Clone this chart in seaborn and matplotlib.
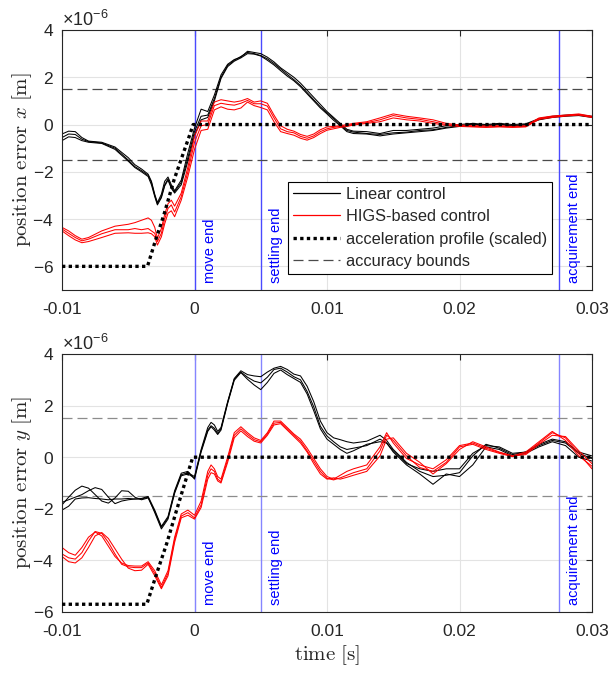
import numpy as np
import pandas as pd
import matplotlib
matplotlib.use("Agg")
import matplotlib.pyplot as plt
import matplotlib.transforms as mtransforms
from matplotlib.lines import Line2D
from matplotlib.ticker import ScalarFormatter
import seaborn as sns

# ---------------- data (time in ms, error in micrometres) ----------------
t_x = [-10, -9.5, -9, -8.5, -8, -7, -6, -5, -4.5, -4, -3.5, -3.25, -3, -2.8, -2.5, -2.25, -2, -1.75, -1.5, -1,
       -0.5, 0, 0.5, 1, 1.5, 2, 2.5, 3, 3.5, 4, 4.5, 5, 5.5, 6, 6.5, 7, 7.5, 8, 8.5, 9, 9.5, 10, 10.5, 11, 11.5,
       12, 13, 14, 15, 16, 17, 18, 19, 20, 21, 22, 23, 24, 25, 26, 27, 28, 29, 30]

lin_x1 = [-0.40, -0.28, -0.30, -0.55, -0.70, -0.75, -0.95, -1.40, -1.70, -1.88, -2.10, -2.40, -2.95, -3.30, -2.95,
          -2.40, -2.22, -2.55, -2.80, -2.35, -1.20, -0.15, 0.65, 0.55, 1.25, 2.10, 2.55, 2.75, 2.85, 3.10, 3.05,
          3.00, 2.85, 2.65, 2.40, 2.20, 2.00, 1.75, 1.45, 1.15, 0.85, 0.55, 0.30, 0.05, -0.20, -0.28, -0.30, -0.38,
          -0.25, -0.25, -0.20, -0.15, -0.05, 0.00, 0.05, 0.00, 0.05, 0.00, 0.03, 0.25, 0.35, 0.40, 0.42, 0.35]
lin_x2 = [-0.55, -0.40, -0.42, -0.62, -0.72, -0.78, -1.00, -1.50, -1.78, -1.95, -2.15, -2.45, -3.00, -3.35, -3.05,
          -2.55, -2.30, -2.65, -2.85, -2.45, -1.40, -0.30, 0.35, 0.40, 1.10, 2.00, 2.50, 2.72, 2.88, 3.05, 3.00,
          2.92, 2.78, 2.58, 2.35, 2.12, 1.90, 1.65, 1.35, 1.05, 0.75, 0.50, 0.25, 0.00, -0.25, -0.32, -0.38, -0.42,
          -0.35, -0.32, -0.25, -0.22, -0.12, -0.05, 0.02, -0.03, 0.02, -0.05, 0.00, 0.22, 0.32, 0.38, 0.40, 0.33]
lin_x3 = [-0.68, -0.52, -0.55, -0.68, -0.75, -0.80, -1.05, -1.55, -1.82, -2.00, -2.20, -2.55, -3.05, -3.40, -3.10,
          -2.60, -2.35, -2.70, -2.90, -2.55, -1.55, -0.45, 0.20, 0.30, 1.00, 1.95, 2.45, 2.68, 2.82, 3.00, 2.98,
          2.90, 2.72, 2.52, 2.28, 2.05, 1.85, 1.60, 1.30, 1.00, 0.70, 0.45, 0.18, -0.05, -0.30, -0.38, -0.40, -0.48,
          -0.40, -0.35, -0.30, -0.25, -0.15, -0.08, 0.00, -0.06, 0.00, -0.06, -0.02, 0.20, 0.30, 0.35, 0.38, 0.30]

higs_x1 = [-4.35, -4.50, -4.70, -4.85, -4.78, -4.50, -4.30, -4.22, -4.15, -4.05, -3.95, -4.05, -4.35, -4.80, -4.40,
           -3.80, -3.35, -3.20, -3.45, -2.90, -1.80, -0.50, 0.15, 0.15, 0.95, 1.05, 1.00, 0.95, 1.00, 1.10, 0.95,
           1.00, 0.90, 0.40, -0.05, -0.20, -0.28, -0.42, -0.50, -0.40, -0.22, -0.10, -0.08, -0.05, 0.00, 0.05,
           0.12, 0.28, 0.45, 0.35, 0.28, 0.20, 0.05, -0.02, -0.05, -0.06, -0.05, -0.08, -0.05, 0.28, 0.36, 0.40,
           0.45, 0.35]
higs_x2 = [-4.42, -4.60, -4.78, -4.92, -4.85, -4.62, -4.45, -4.45, -4.40, -4.45, -4.40, -4.50, -4.60, -4.95, -4.60,
           -4.00, -3.55, -3.40, -3.70, -3.05, -2.00, -0.75, -0.05, 0.00, 0.80, 0.90, 0.85, 0.82, 0.90, 1.02, 0.88,
           0.88, 0.78, 0.28, -0.18, -0.30, -0.35, -0.50, -0.58, -0.48, -0.30, -0.18, -0.12, -0.08, -0.05, 0.02,
           0.08, 0.20, 0.38, 0.28, 0.22, 0.12, 0.00, -0.05, -0.08, -0.10, -0.08, -0.10, -0.08, 0.25, 0.33, 0.38,
           0.42, 0.32]
higs_x3 = [-4.50, -4.70, -4.88, -5.00, -4.95, -4.78, -4.60, -4.58, -4.60, -4.60, -4.58, -4.62, -4.75, -5.10, -4.75,
           -4.20, -3.75, -3.65, -3.90, -3.20, -2.20, -1.05, -0.25, -0.20, 0.62, 0.75, 0.65, 0.62, 0.70, 0.95, 0.80,
           0.72, 0.62, 0.12, -0.30, -0.38, -0.45, -0.58, -0.66, -0.55, -0.38, -0.24, -0.18, -0.12, -0.08, -0.02,
           0.05, 0.12, 0.28, 0.20, 0.15, 0.05, -0.03, -0.08, -0.10, -0.12, -0.10, -0.12, -0.10, 0.22, 0.30, 0.36,
           0.40, 0.30]

acc_t_x = [-10, -3.55, -3.0, -2.3, -1.55, -0.9, -0.4, -0.1, 30]
acc_x = [-6.0, -6.0, -5.0, -3.8, -2.35, -1.3, -0.5, 0.0, 0.0]

t_y = [-10, -9.5, -9, -8.5, -8, -7.5, -7, -6.5, -6, -5.5, -5, -4.5, -4, -3.5, -3, -2.5, -2, -1.5, -1, -0.5, 0,
       0.5, 1, 1.25, 1.5, 1.75, 2, 2.5, 3, 3.5, 4, 4.5, 5, 5.5, 6, 6.5, 7, 7.5, 8, 8.5, 9, 9.5, 10, 10.5, 11, 11.5,
       12, 13, 14, 14.5, 15, 16, 17, 18, 19, 20, 21, 22, 23, 24, 25, 26, 27, 28, 29, 30]

lin_y1 = [-1.85, -1.55, -1.28, -1.12, -1.20, -1.45, -1.70, -1.78, -1.58, -1.30, -1.32, -1.55, -1.65, -1.58, -2.10,
          -2.72, -2.35, -1.35, -0.68, -0.60, -0.75, 0.30, 1.15, 1.35, 1.25, 1.00, 1.15, 2.15, 3.05, 3.35, 3.20,
          3.15, 3.12, 3.30, 3.45, 3.52, 3.40, 3.22, 3.15, 2.75, 2.15, 1.40, 0.95, 0.75, 0.68, 0.60, 0.55, 0.62,
          0.85, 0.65, 0.30, -0.20, -0.55, -0.75, -0.70, -0.60, 0.05, 0.50, 0.35, 0.10, 0.20, 0.45, 0.65, 0.55,
          0.15, -0.05]
lin_y2 = [-1.75, -1.65, -1.55, -1.45, -1.30, -1.18, -1.25, -1.55, -1.80, -1.70, -1.65, -1.62, -1.62, -1.55, -2.15,
          -2.78, -2.40, -1.40, -0.72, -0.65, -0.80, 0.25, 1.05, 1.22, 1.12, 0.92, 1.10, 2.12, 3.02, 3.30, 3.10,
          2.95, 2.88, 3.10, 3.40, 3.45, 3.30, 3.12, 3.00, 2.55, 1.95, 1.20, 0.82, 0.60, 0.40, 0.30, 0.35, 0.45,
          0.70, 0.55, 0.20, -0.30, -0.65, -1.05, -0.65, -0.75, -0.30, 0.40, 0.30, 0.05, 0.15, 0.40, 0.60, 0.45,
          0.00, -0.15]
lin_y3 = [-2.05, -1.90, -1.62, -1.58, -1.57, -1.60, -1.62, -1.65, -1.62, -1.62, -1.60, -1.62, -1.60, -1.52, -2.05,
          -2.68, -2.30, -1.30, -0.62, -0.55, -0.85, 0.20, 1.00, 1.18, 1.05, 0.88, 1.05, 2.08, 2.98, 3.28, 3.02,
          2.80, 2.62, 2.90, 3.25, 3.38, 3.20, 3.05, 2.90, 2.45, 1.80, 1.10, 0.70, 0.50, 0.30, 0.15, 0.25, 0.50,
          0.60, 0.55, 0.25, -0.25, -0.45, -0.55, -0.45, -0.45, 0.15, 0.45, 0.40, 0.15, 0.20, 0.50, 0.70, 0.60,
          0.20, 0.05]

higs_y1 = [-3.50, -3.70, -3.80, -3.50, -3.10, -2.90, -3.05, -3.45, -3.85, -4.10, -4.20, -4.22, -4.22, -4.05, -4.40,
           -4.95, -4.40, -3.10, -2.20, -2.05, -2.25, -1.70, -0.55, -0.30, -0.45, -0.75, -0.85, 0.00, 0.95, 1.18,
           0.95, 0.75, 0.65, 0.95, 1.40, 1.40, 1.15, 0.90, 0.70, 0.35, -0.05, -0.45, -0.75, -0.85, -0.70, -0.55,
           -0.45, -0.30, 0.40, 0.95, 0.55, -0.05, -0.30, -0.45, -0.10, 0.45, 0.55, 0.35, 0.18, 0.05, 0.20, 0.60,
           1.00, 0.65, 0.05, -0.35]
higs_y2 = [-3.75, -3.90, -3.95, -3.70, -3.25, -2.88, -2.95, -3.30, -3.75, -4.15, -4.25, -4.28, -4.28, -4.10, -4.50,
           -5.05, -4.50, -3.20, -2.28, -2.15, -2.35, -1.85, -0.70, -0.45, -0.55, -0.85, -0.95, -0.10, 0.85, 1.10,
           0.88, 0.68, 0.60, 0.90, 1.32, 1.35, 1.10, 0.85, 0.62, 0.25, -0.15, -0.55, -0.82, -0.88, -0.80, -0.70,
           -0.60, -0.45, 0.25, 0.85, 0.65, 0.05, -0.40, -0.55, -0.20, 0.40, 0.50, 0.30, 0.15, 0.02, 0.15, 0.55,
           0.95, 0.75, 0.15, -0.45]
higs_y3 = [-3.85, -4.05, -4.10, -3.90, -3.50, -3.05, -2.92, -3.15, -3.55, -3.95, -4.30, -4.40, -4.38, -4.15, -4.60,
           -5.10, -4.60, -3.30, -2.35, -2.25, -2.40, -1.95, -0.85, -0.60, -0.65, -0.92, -1.00, -0.20, 0.75, 1.02,
           0.80, 0.62, 0.55, 0.85, 1.25, 1.30, 1.05, 0.80, 0.55, 0.20, -0.25, -0.65, -0.85, -0.80, -0.85, -0.78,
           -0.70, -0.55, 0.05, 0.70, 0.75, 0.15, -0.20, -0.65, -0.25, 0.30, 0.60, 0.40, 0.20, 0.05, 0.10, 0.50,
           0.85, 0.80, 0.25, -0.25]

acc_t_y = [-10, -3.6, -2.85, -2.1, -1.35, -0.7, -0.13, 30]
acc_y = [-5.7, -5.7, -4.5, -3.35, -2.05, -0.95, 0.0, 0.0]

bound = 1.5
events_ms = [0, 5, 27.5]
event_labels = ["move end", "settling end", "acquirement end"]
xtick_vals = [-0.01, 0, 0.01, 0.02, 0.03]
xtick_labels = ["-0.01", "0", "0.01", "0.02", "0.03"]
legend_labels = ["Linear control", "HIGS-based control", "acceleration profile (scaled)", "accuracy bounds"]


def long_frame(t, runs_lin, runs_higs):
    rows = []
    for ctrl, runs in (("Linear", runs_lin), ("HIGS", runs_higs)):
        for k, r in enumerate(runs):
            rows.append(pd.DataFrame({"time": np.array(t) * 1e-3, "err": np.array(r) * 1e-6,
                                      "control": ctrl, "run": f"{ctrl}{k}"}))
    return pd.concat(rows, ignore_index=True)


df_x = long_frame(t_x, [lin_x1, lin_x2, lin_x3], [higs_x1, higs_x2, higs_x3])
df_y = long_frame(t_y, [lin_y1, lin_y2, lin_y3], [higs_y1, higs_y2, higs_y3])
acc_df_x = pd.DataFrame({"time": np.array(acc_t_x) * 1e-3, "err": np.array(acc_x) * 1e-6})
acc_df_y = pd.DataFrame({"time": np.array(acc_t_y) * 1e-3, "err": np.array(acc_y) * 1e-6})

# ---------------- style ----------------
sns.set_theme(style="white")
plt.rcParams["font.family"] = ["Liberation Sans", "DejaVu Sans"]
plt.rcParams["axes.unicode_minus"] = False
plt.rcParams["mathtext.fontset"] = "custom"
plt.rcParams["mathtext.rm"] = "Liberation Sans"
plt.rcParams["mathtext.it"] = "Liberation Sans:italic"

fig = plt.figure(figsize=(6.08, 6.75), dpi=100)
W, H = 608, 675
ax1 = fig.add_axes([62 / W, 1 - 290 / H, 530 / W, 260 / H])
ax2 = fig.add_axes([62 / W, 1 - 612 / H, 530 / W, 258 / H])

palette = {"Linear": "black", "HIGS": "#ff0000"}
spine_c = "#262626"

panels = [
    (ax1, df_x, acc_df_x, (-7e-6, 4e-6), r"$\mathrm{position\ error}\ x\ \mathrm{[m]}$", "#4a4a4a", "#4a4aff"),
    (ax2, df_y, acc_df_y, (-6e-6, 4e-6), r"$\mathrm{position\ error}\ y\ \mathrm{[m]}$", "#8c8c8c", "#8585ff"),
]

for ax, df, acc, ylim, ylab, bcol, vcol in panels:
    ax.set_facecolor("white")
    ax.grid(True, color="#e3e3e3", lw=0.8)
    ax.set_axisbelow(True)
    for ev in events_ms:
        ax.axvline(ev * 1e-3, color=vcol, lw=1.0, zorder=1.5)
    for b in (bound, -bound):
        ax.axhline(b * 1e-6, color=bcol, lw=0.9, dashes=(8, 4), zorder=1.6)
    sns.lineplot(data=df, x="time", y="err", hue="control", units="run", estimator=None,
                 palette=palette, hue_order=["Linear", "HIGS"], lw=0.75, legend=False,
                 sort=False, ax=ax, zorder=2)
    sns.lineplot(data=acc, x="time", y="err", color="black", lw=2.4, ax=ax,
                 estimator=None, sort=False, zorder=3, linestyle=(0, (1, 1)))
    ax.set_xlim(-0.01, 0.03)
    ax.set_ylim(*ylim)
    ax.set_xticks(xtick_vals)
    ax.set_xticklabels(xtick_labels)
    ax.set_yticks(np.arange(-6, 5, 2) * 1e-6)
    fmt = ScalarFormatter(useMathText=True)
    ax.yaxis.set_major_formatter(fmt)
    ax.yaxis.get_offset_text().set_fontsize(13)
    ax.tick_params(direction="in", length=4, width=0.8, colors=spine_c, labelsize=12.5,
                   top=True, right=True, pad=6)
    ax.tick_params(axis="x", pad=9)
    ax.tick_params(axis="both", labelcolor="#262626")
    for s in ax.spines.values():
        s.set_color(spine_c)
        s.set_linewidth(0.8)
    ax.set_xlabel("")
    ax.set_ylabel(ylab, fontsize=15, math_fontfamily="cm", labelpad=-1)
    off = mtransforms.ScaledTranslation(8 / 100, 0, fig.dpi_scale_trans)
    trans = mtransforms.blended_transform_factory(ax.transData, ax.transAxes) + off
    for ev, lab in zip(events_ms, event_labels):
        ax.text(ev * 1e-3, 0.028, lab, rotation=90, color="#0000ff", fontsize=10.5,
                ha="left", va="bottom", transform=trans)

ax2.set_xlabel(r"$\mathrm{time\ [s]}$", fontsize=15, math_fontfamily="cm", labelpad=3)

handles = [
    Line2D([], [], color="black", lw=0.9),
    Line2D([], [], color="#ff0000", lw=0.9),
    Line2D([], [], color="black", lw=2.4, linestyle=(0, (1, 1))),
    Line2D([], [], color="#4a4a4a", lw=0.9, dashes=(8, 4)),
]
leg = ax1.legend(handles, legend_labels, loc="lower left", bbox_to_anchor=(0.426, 0.062),
                 fontsize=11.8, frameon=True, fancybox=False, framealpha=1, edgecolor="black",
                 handlelength=2.9, handletextpad=0.35, labelspacing=0.45, borderpad=0.3,
                 borderaxespad=0)
leg.get_frame().set_linewidth(0.8)

fig.savefig("out.png", dpi=100)
